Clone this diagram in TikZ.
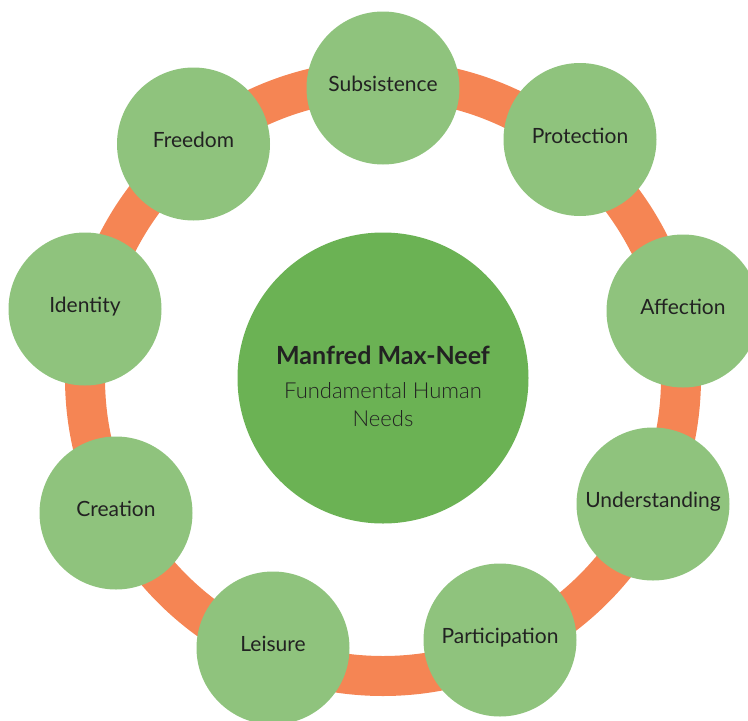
\documentclass[tikz,border=0pt]{standalone}
\usepackage{fontspec}
\setmainfont{Lato}
\newfontfamily\lightfont{Lato Light}
\usepackage{xcolor}
\definecolor{ringorange}{HTML}{F58554}
\definecolor{needgreen}{HTML}{8FC37D}
\definecolor{coregreen}{HTML}{6BB254}
\definecolor{labeltext}{HTML}{222222}

\begin{document}
\begin{tikzpicture}[x=1pt, y=-1pt,
    need/.style={circle, fill=needgreen, minimum size=153pt, inner sep=0pt,
                 text=labeltext, text height=9pt, text depth=2pt,
                 font=\fontsize{21}{24}\selectfont},
    core/.style={circle, fill=coregreen, minimum size=291pt, inner sep=0pt,
                 text=labeltext, align=center, text height=100pt, text depth=4pt,
                 font=\fontsize{22}{28}\selectfont}]
            \useasboundingbox (0,0) rectangle (748,721);

            % draw orange ring
            \draw[color=ringorange, line width=40pt] (383,378) circle [radius=298pt];

            % draw centre circle
            \node[core] (core) at (383,378)
                {{\bfseries\fontsize{25}{26}\selectfont Manfred Max-Neef}\\[6pt]
                 {\lightfont Fundamental Human}\\{\lightfont Needs}};

            % draw needs
            \node[need] (subsistence)   at (383,88)    {Subsistence};
            \node[need] (protection)    at (580,139.5) {Protection};
            \node[need] (affection)     at (683,311)   {Affection};
            \node[need] (understanding) at (653,504)   {Understanding};
            \node[need] (participation) at (500,640)   {Participation};
            \node[need] (leisure)       at (273,648)   {Leisure};
            \node[need] (creation)      at (116,513)   {Creation};
            \node[need] (identity)      at (85,309)    {Identity};
            \node[need] (freedom)       at (193.5,144) {Freedom};
        \end{tikzpicture}
\end{document}
